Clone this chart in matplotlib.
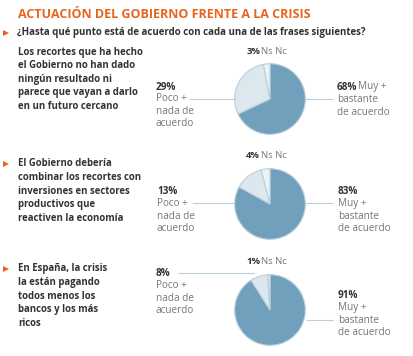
import matplotlib.pyplot as plt

# data
statements = [
    "Los recortes que ha hecho\nel Gobierno no han dado\nningún resultado ni\nparece que vayan a darlo\nen un futuro cercano",
    "El Gobierno debería\ncombinar los recortes con\ninversiones en sectores\nproductivos que\nreactiven la economía",
    "En España, la crisis\nla están pagando\ntodos menos los\nbancos y los más\nricos",
]
muy_bastante = [68, 83, 91]
poco_nada = [29, 13, 8]
ns_nc = [3, 4, 1]

W, H = 414, 356
orange = '#e8641e'
dark = '#333333'
grey = '#777777'
c_dark = '#70a0bc'
c_light = '#dde7ee'
c_nsnc = '#eef3f6'
c_line = '#b9cfdc'
fs = 7.2

plt.rcParams['font.family'] = ['Open Sans', 'DejaVu Sans']

fig = plt.figure(figsize=(W / 100, H / 100), dpi=100)
fig.patch.set_facecolor('white')
ax = fig.add_axes([0, 0, 1, 1])
ax.set_xlim(0, W)
ax.set_ylim(H, 0)
ax.axis('off')

ax.text(18, 14, "ACTUACIÓN DEL GOBIERNO FRENTE A LA CRISIS", color=orange,
        fontsize=9.0, fontweight='bold', va='center', ha='left')
ax.plot([6], [33], marker='>', color=orange, markersize=5, markeredgewidth=0)
ax.text(17, 33, "¿Hasta qué punto está de acuerdo con cada una de las frases siguientes?",
        color=dark, fontsize=7.0, fontweight='bold', va='center', ha='left')

# layout per block (pixel positions)
centers = [(270, 99), (270, 204), (270, 310)]
radius = 36
text_top = [52, 164, 269]
nsnc_y = [52, 156, 261]

for i in range(3):
    cx, cy = centers[i]
    pax = fig.add_axes([(cx - radius) / W, 1 - (cy + radius) / H,
                        2 * radius / W, 2 * radius / H])
    pax.pie([muy_bastante[i], poco_nada[i], ns_nc[i]],
            colors=[c_dark, c_light, c_nsnc], startangle=90, counterclock=False,
            wedgeprops=dict(edgecolor=c_line, linewidth=0.8))
    pax.set_xlim(-1.02, 1.02)
    pax.set_ylim(-1.02, 1.02)

    if i > 0:
        ax.plot([6], [text_top[i]], marker='>', color=orange, markersize=5,
                markeredgewidth=0)
    ax.text(18, text_top[i] - 5.5, statements[i], color=dark, fontsize=6.9,
            fontweight='bold', va='top', ha='left', linespacing=1.33)

    # Ns Nc
    ax.text(cx - 10, nsnc_y[i], f"{ns_nc[i]}%", color=dark, fontsize=6.8,
            fontweight='bold', va='center', ha='right')
    ax.text(cx - 9, nsnc_y[i], "Ns Nc", color=grey, fontsize=6.8,
            va='center', ha='left')

# block 1 labels
ax.text(156, 87, f"{poco_nada[0]}%", color=dark, fontsize=fs, fontweight='bold', va='center')
ax.text(156, 93, "Poco +\nnada de\nacuerdo", color=grey, fontsize=fs, va='top',
        linespacing=1.2)
ax.plot([190, 246], [99, 99], color=c_line, lw=0.8)
ax.text(337, 87, f"{muy_bastante[0]}%", color=dark, fontsize=fs, fontweight='bold', va='center')
ax.text(358, 87, "Muy +", color=grey, fontsize=fs, va='center')
ax.text(337, 94, "bastante\nde acuerdo", color=grey, fontsize=fs, va='top',
        linespacing=1.2)
ax.plot([306, 333], [99, 99], color=c_line, lw=0.8)

# block 2 labels
ax.text(157, 192, f"{poco_nada[1]}%", color=dark, fontsize=fs, fontweight='bold', va='center')
ax.text(157, 198, "Poco +\nnada de\nacuerdo", color=grey, fontsize=fs, va='top',
        linespacing=1.2)
ax.plot([193, 236], [203, 203], color=c_line, lw=0.8)
ax.text(338, 192, f"{muy_bastante[1]}%", color=dark, fontsize=fs, fontweight='bold', va='center')
ax.text(338, 198, "Muy +\nbastante\nde acuerdo", color=grey, fontsize=fs, va='top',
        linespacing=1.2)
ax.plot([306, 333], [203, 203], color=c_line, lw=0.8)

# block 3 labels
ax.text(156, 273, f"{poco_nada[2]}%", color=dark, fontsize=fs, fontweight='bold', va='center')
ax.text(156, 280, "Poco +\nnada de\nacuerdo", color=grey, fontsize=fs, va='top',
        linespacing=1.2)
ax.plot([178, 254], [273, 273], color=c_line, lw=0.8)
ax.text(338, 296, f"{muy_bastante[2]}%", color=dark, fontsize=fs, fontweight='bold', va='center')
ax.text(338, 302, "Muy +\nbastante\nde acuerdo", color=grey, fontsize=fs, va='top',
        linespacing=1.2)
ax.plot([307, 333], [320, 320], color=c_line, lw=0.8)

fig.savefig('out.png', dpi=100)
